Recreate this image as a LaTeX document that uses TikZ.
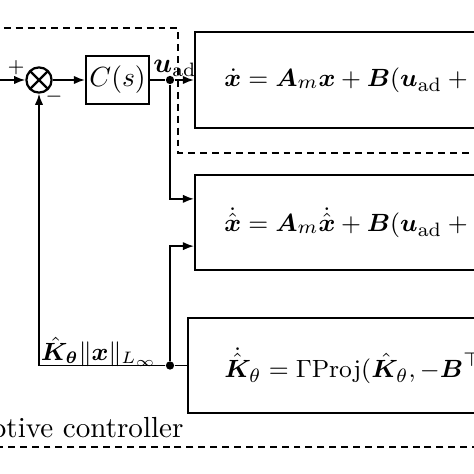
\documentclass[tikz,border=0pt]{standalone}
\usepackage{amsmath,amssymb,bm}
\usetikzlibrary{arrows.meta,positioning,calc}

\tikzset{
  blk/.style={draw, thick, minimum width=0.8cm, minimum height=0.6cm, inner sep=1pt},
  sumnode/.style={draw, thick, circle, minimum size=0.32cm, inner sep=0pt,
    path picture={\draw[thick] (path picture bounding box.north west) -- (path picture bounding box.south east)
      (path picture bounding box.north east) -- (path picture bounding box.south west);}},
  eqbox/.style={draw, thick, anchor=west, minimum height=1.21cm, text width=5cm, align=left,
    font=\fontsize{9.3}{11}\selectfont},
  jdot/.style={circle, fill, inner sep=0pt, minimum size=3pt},
  sig/.style={semithick, -{Latex[length=4pt,width=3pt]}},
  region/.style={semithick, dash pattern=on 2.5pt off 1.8pt},
}

\begin{document}
\begin{tikzpicture}[x=0.0127cm, y=-0.0127cm]
  \clip (0,0) rectangle (474,474);
  % adaptive controller region
  \draw[region] (-20,28) -- (178,28) -- (178,153) -- (520,153) -- (520,447) -- (-20,447) -- cycle;
  \node[anchor=base east, inner sep=0pt, font=\fontsize{10.5}{12}\selectfont] (acl) at (184,437) {adaptive controller};

  \coordinate (ref) at (-10,80);
  \node[sumnode] (sum) at (39,80) {};
  \node[blk, right=0.41cm of sum] (cs) {$C(s)$};
  \node[jdot] (d1) at (170,80) {};
  \node[eqbox, inner xsep=0.37cm] (plant) at (194,80)
    {$\dot{\bm x} = \bm A_m\bm x + \bm B(\bm u_{\mathrm{ad}} + \bm K_\theta\bm x)$};
  \node[eqbox, inner xsep=0.37cm] (pred) at (194,222.5)
    {$\dot{\hat{\bm x}} = \bm A_m\dot{\hat{\bm x}} + \bm B(\bm u_{\mathrm{ad}} + \hat{\bm K}_\theta\bm x)$};
  \node[eqbox, inner xsep=0.46cm] (law) at (187,365.5)
    {$\dot{\hat{\bm K}}_\theta = \Gamma\mathrm{Proj}(\hat{\bm K}_\theta, -\bm B^\top\bm P\tilde{\bm x})$};
  \node[jdot] (d2) at (170,365.5) {};

  % labels
  \node[font=\scriptsize] (plus) at (16,68) {$+$};
  \node[font=\scriptsize] (minus) at (54,97) {$-$};
  \node (uad) at (175,68) {$\bm u_{\mathrm{ad}}$};
  \node[font=\fontsize{9}{11}\selectfont] (fb) at (99,352) {$\hat{\bm K}_{\bm\theta}\|\bm x\|_{L_\infty}$};

  % signals
  \draw[sig] (ref) -- (sum);
  \draw[sig] (sum) -- (cs);
  \draw[semithick] (cs) -- (d1);
  \draw[sig] (d1) -- (plant.west);
  \draw[sig] (d1) |- ([yshift=0.3cm]pred.west);
  \draw[semithick] (law.west) -- (d2);
  \draw[sig] (d2) -| (sum.south);
  \draw[sig] (d2) |- ([yshift=-0.3cm]pred.west);
\end{tikzpicture}
\end{document}
